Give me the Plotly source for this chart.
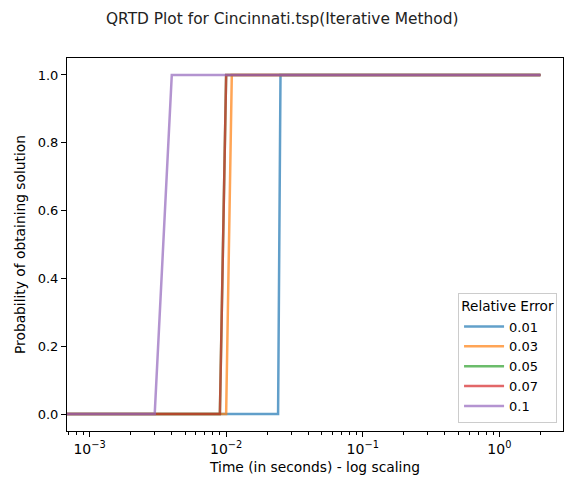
import plotly.graph_objects as go

# Relative-error series (step curves: last time with p=0, first time with p=1)
labels = ["0.01", "0.03", "0.05", "0.07", "0.1"]
t_start = [1e-6, 1e-6, 1e-6, 1e-6, 1e-6]
t_last_zero = [0.024, 0.010, 0.009, 0.009, 0.003]
t_first_one = [0.025, 0.011, 0.010, 0.010, 0.004]
t_end = [2.0, 2.0, 2.0, 2.0, 2.0]
p_low = 0.0
p_high = 1.0
colors = ["#1f77b4", "#ff7f0e", "#2ca02c", "#d62728", "#9467bd"]

x_major_vals = [1e-3, 1e-2, 1e-1, 1e0]
x_major_text = ["10<sup>−3</sup>", "10<sup>−2</sup>", "10<sup>−1</sup>", "10<sup>0</sup>"]
y_ticks = [0.0, 0.2, 0.4, 0.6, 0.8, 1.0]

minor_vals = []
for dec in [1e-4, 1e-3, 1e-2, 1e-1, 1e0]:
    for m in range(2, 10):
        minor_vals.append(m * dec)

fig = go.Figure()
for i, lab in enumerate(labels):
    fig.add_trace(go.Scatter(
        x=[t_start[i], t_last_zero[i], t_first_one[i], t_end[i]],
        y=[p_low, p_low, p_high, p_high],
        mode="lines",
        name=lab,
        line=dict(color=colors[i], width=2.5),
        opacity=0.7,
    ))

font = "DejaVu Sans"
fig.update_layout(
    width=568, height=483,
    margin=dict(l=67, r=5, t=58, b=52),
    paper_bgcolor="white", plot_bgcolor="white",
    font=dict(family=font, size=13, color="black"),
    title=dict(text="QRTD Plot for Cincinnati.tsp(Iterative Method)",
               x=0.497, xanchor="center", y=1 - 19 / 483, yanchor="middle",
               font=dict(size=15.4, color="#222")),
    legend=dict(
        title=dict(text="Relative Error", side="top center", font=dict(size=13.6)),
        x=0.988, y=0.022, xanchor="right", yanchor="bottom",
        bgcolor="rgba(255,255,255,0.8)", bordercolor="#cccccc", borderwidth=1,
        font=dict(size=13), itemwidth=40, tracegroupgap=0,
    ),
)
fig.update_xaxes(
    type="log", range=[-3.165, 0.466],
    tickmode="array", tickvals=x_major_vals, ticktext=x_major_text,
    tickfont=dict(size=14),
    ticks="outside", ticklen=5, tickcolor="black", tickwidth=1,
    minor=dict(tickmode="array", tickvals=minor_vals, ticks="outside",
               ticklen=3, tickcolor="black", tickwidth=0.8),
    showgrid=False, zeroline=False,
    showline=True, linecolor="black", linewidth=1, mirror=True,
    title=dict(text="Time (in seconds) - log scaling", standoff=6,
               font=dict(size=13.8)),
)
fig.update_yaxes(
    range=[-0.05, 1.05],
    tickmode="array", tickvals=y_ticks, tickformat=".1f",
    tickfont=dict(size=13),
    ticks="outside", ticklen=5, tickcolor="black", tickwidth=1,
    showgrid=False, zeroline=False,
    showline=True, linecolor="black", linewidth=1, mirror=True,
    title=dict(text="Probability of obtaining solution", standoff=8,
               font=dict(size=13.8)),
)
fig.write_html("out.html")
